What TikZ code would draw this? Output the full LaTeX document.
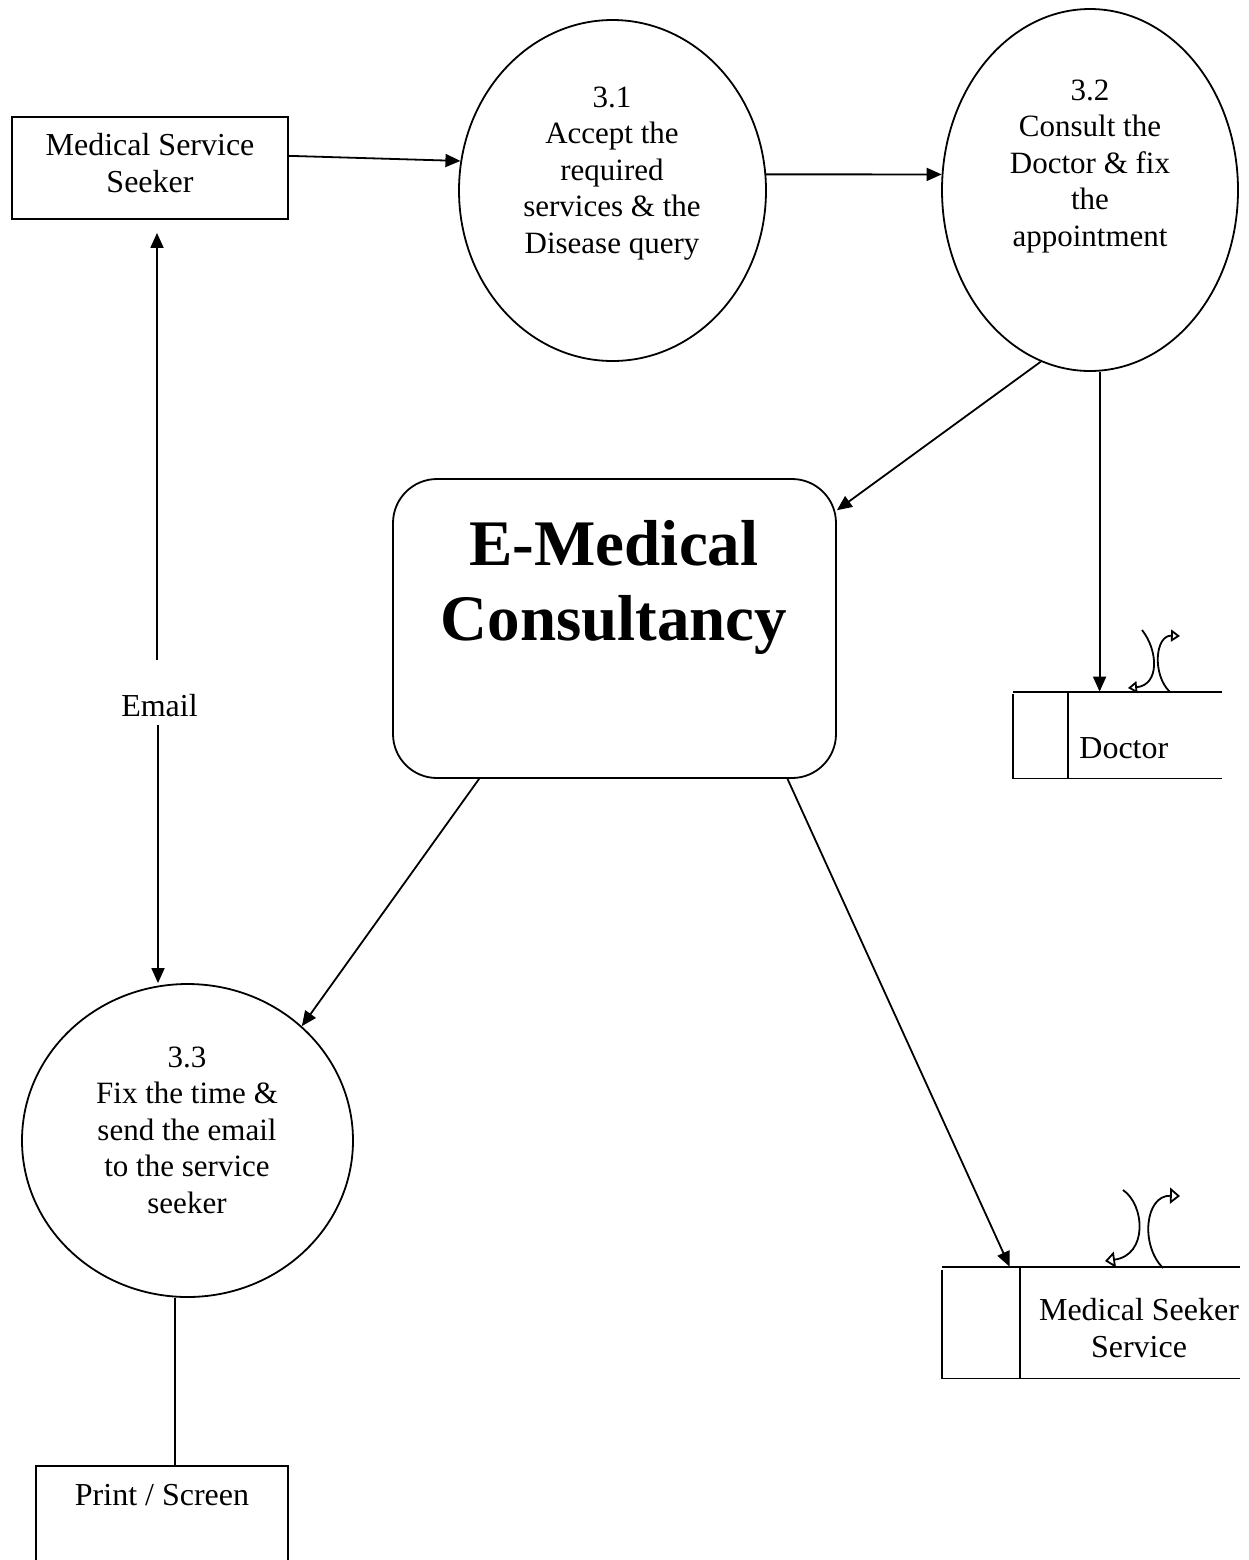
\documentclass[tikz,border=0pt]{standalone}
\usepackage{fontspec}
\setmainfont{Liberation Serif}
\usetikzlibrary{shapes.geometric,arrows.meta}

% multi-line centred label whose base anchor sits on the first line
\newcommand{\mlines}[1]{\begin{tabular}[t]{@{}c@{}}#1\end{tabular}}

\tikzset{
  line/.style={line width=0.9pt},
  arr/.style={line, -{Triangle[length=7.5pt,width=6.5pt]}},
  proc/.style={ellipse, draw, line width=0.9pt, inner sep=0pt},
  ent/.style={rectangle, draw, line width=0.9pt, inner sep=0pt},
  ptxt/.style={anchor=base, inner sep=0pt, font=\fontsize{15.5}{18.25}\selectfont},
  etxt/.style={anchor=base, inner sep=0pt, font=\fontsize{16}{18.75}\selectfont},
  flipsmall/.style={line width=0.9pt, -{Triangle[open,length=4.5pt,width=6pt]}},
  flipbig/.style={line width=0.9pt, -{Triangle[open,length=5pt,width=8pt]}},
}

\begin{document}
\begin{tikzpicture}[x=0.5pt,y=-0.5pt]
\useasboundingbox (0,0) rectangle (1249,1560);
\fill[white] (0,0) rectangle (1249,1560);
\clip (0,0) rectangle (1249,1560);

% external entity
\node[ent, minimum width=138pt, minimum height=51pt] (seeker) at (150,168) {};
\node[etxt] (seekertxt) at (150,155) {\mlines{Medical Service\\Seeker}};

% processes
\node[proc, minimum width=153.5pt, minimum height=170.5pt] (p31) at (612.5,190.5) {};
\node[ptxt] (p31txt) at (612,107) {\mlines{3.1\\Accept the\\required\\services \& the\\Disease query}};

\node[proc, minimum width=148pt, minimum height=181pt] (p32) at (1090,190) {};
\node[ptxt] (p32txt) at (1090,100) {\mlines{3.2\\Consult the\\Doctor \& fix\\the\\appointment}};

\node[proc, minimum width=165.5pt, minimum height=156.5pt] (p33) at (187.5,1140.5) {};
\node[ptxt] (p33txt) at (187,1067) {\mlines{3.3\\Fix the time \&\\send the email\\to the service\\seeker}};

% central system
\node[ent, rounded corners=22pt, minimum width=221.5pt, minimum height=149.5pt] (core) at (614.5,628.5) {};
\node[anchor=base, inner sep=0pt, font=\fontsize{32.5}{37.5}\selectfont\bfseries] (coretxt) at (614,565) {\mlines{E-Medical\\Consultancy}};

% data store: Doctor
\node[minimum width=104.5pt, minimum height=43pt, inner sep=0pt] (dstore) at (1117.5,735) {};
\draw[line] (dstore.north east) -- (dstore.north west);
\draw[line] ([yshift=-1pt]dstore.north west) -- (dstore.south west) -- (dstore.south east);
\draw[line] ([xshift=27.5pt]dstore.north west) -- ([xshift=27.5pt]dstore.south west);
\node[etxt, anchor=base west] (dtxt) at (1079,758) {Doctor};
\coordinate (dsin) at ([xshift=43.5pt]dstore.north west);

% data store: Medical Seeker Service
\node[minimum width=149pt, minimum height=55.5pt, inner sep=0pt] (sstore) at (1091,1322.5) {};
\draw[line] (sstore.north east) -- (sstore.north west);
\draw[line] ([yshift=-1.5pt]sstore.north west) -- (sstore.south west) -- (sstore.south east);
\draw[line] ([xshift=39pt]sstore.north west) -- ([xshift=39pt]sstore.south west);
\node[etxt] (stxt) at (1139,1320) {\mlines{Medical Seeker\\Service}};
\coordinate (ssin) at ([xshift=34pt]sstore.north west);

% output device
\node[ent, anchor=north, minimum width=126pt, minimum height=80pt] (print) at (162,1465) {};
\node[etxt] (printtxt) at (162,1505) {Print / Screen};
\coordinate (prin) at ([xshift=70pt]print.north west);

% e-mail flow label
\node[etxt] (email) at (159.5,716) {Email};
\coordinate (emup) at (157,660);
\coordinate (emdn) at (158,725);

% data flows
\draw[arr] (seeker.5) -- (p31.169);
\draw[arr] (p31.6) -- (p32.174);
\draw[arr] (p32.254) -- (core.28);
\draw[arr] (p32.south -| dsin) -- (dsin);
\draw[arr] (core.-132) -- (p33.45);
\draw[arr] (core.-41) -- (ssin);
\draw[arr, shorten >=6.5pt] (emup) -- (emup |- seeker.south);
\draw[arr] (emdn) -- (emdn |- p33.north);
\draw[line] (p33.south -| prin) -- (prin);

% read / write marks on the stores
\draw[flipsmall] (1142,630) .. controls (1158,650) and (1160,685) .. (1128,688);
\draw[flipsmall] (1170,692) .. controls (1152,675) and (1155,635) .. (1180,636);
\draw[flipbig] (1123,1190) .. controls (1145,1205) and (1148,1255) .. (1105,1261);
\draw[flipbig] (1163,1268) .. controls (1140,1245) and (1145,1195) .. (1180,1196);
\end{tikzpicture}
\end{document}
